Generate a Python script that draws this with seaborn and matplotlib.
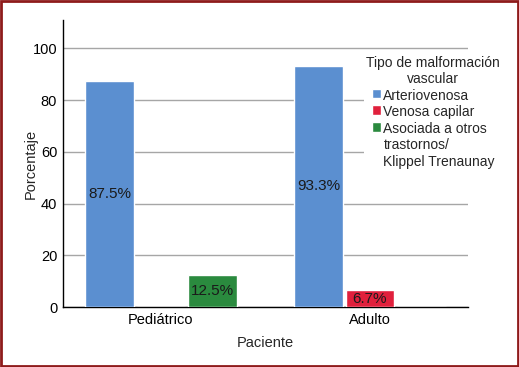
import matplotlib.pyplot as plt
import pandas as pd
import seaborn as sns

# data
pacientes = ['Pediátrico', 'Adulto']
tipos = ['Arteriovenosa', 'Venosa capilar', 'Asociada a otros\ntrastornos/\nKlippel Trenaunay']
arteriovenosa = [87.5, 93.3]
venosa_capilar = [0.0, 6.7]
asociada = [12.5, 0.0]

colores = ['#5B8FD0', '#E0203C', '#2A8A3E']

rows = []
for i, p in enumerate(pacientes):
    for t, vals in zip(tipos, [arteriovenosa, venosa_capilar, asociada]):
        rows.append({'Paciente': p, 'Tipo': t, 'Porcentaje': vals[i]})
df = pd.DataFrame(rows)

sns.set_style('white')
plt.rcParams['font.family'] = ['Liberation Sans', 'DejaVu Sans']

fig = plt.figure(figsize=(5.19, 3.67), dpi=100)
ax = fig.add_axes([0.121, 0.163, 0.781, 0.783])

sns.barplot(data=df, x='Paciente', y='Porcentaje', hue='Tipo', hue_order=tipos,
            order=pacientes, palette=colores, width=0.74, gap=0.06,
            saturation=1, ax=ax, zorder=3)

for cont in ax.containers:
    labels = [f'{v:.1f}%' if v > 0 else '' for v in cont.datavalues]
    ax.bar_label(cont, labels=labels, label_type='center', fontsize=11, color='#1a1a1a')

ax.set_xlim(-0.47, 1.47)
ax.set_ylim(0, 111)
ax.set_yticks(range(0, 101, 20))
ax.yaxis.grid(True, color='#a6a6a6', linewidth=1, zorder=0)
ax.set_axisbelow(True)
for s in ['top', 'right']:
    ax.spines[s].set_visible(False)
for s in ['left', 'bottom']:
    ax.spines[s].set_color('black')
    ax.spines[s].set_linewidth(1)
ax.tick_params(axis='both', length=0, labelsize=10.5, colors='black', pad=4)
ax.set_xlabel('Paciente', fontsize=10.5, labelpad=7)
ax.set_ylabel('Porcentaje', fontsize=10.5, labelpad=-4)

leg = ax.legend(title='Tipo de malformación\nvascular', loc='upper left',
                bbox_to_anchor=(0.742, 0.885), fontsize=10, title_fontsize=10,
                frameon=True, facecolor='white', edgecolor='none', framealpha=1,
                handlelength=0.7, handleheight=0.7, handletextpad=0.15,
                labelspacing=0.2, borderpad=0.2, borderaxespad=0)
leg.get_title().set_multialignment('center')
# put the colour square next to the first line of each entry
for col in leg._legend_handle_box.get_children():
    for item in col.get_children():
        item.align = 'top'

fig.patches.append(plt.Rectangle((0.002, 0.003), 0.996, 0.994, transform=fig.transFigure,
                                 fill=False, edgecolor='#8e1b1b', linewidth=2))

fig.savefig('out.png', dpi=100)
